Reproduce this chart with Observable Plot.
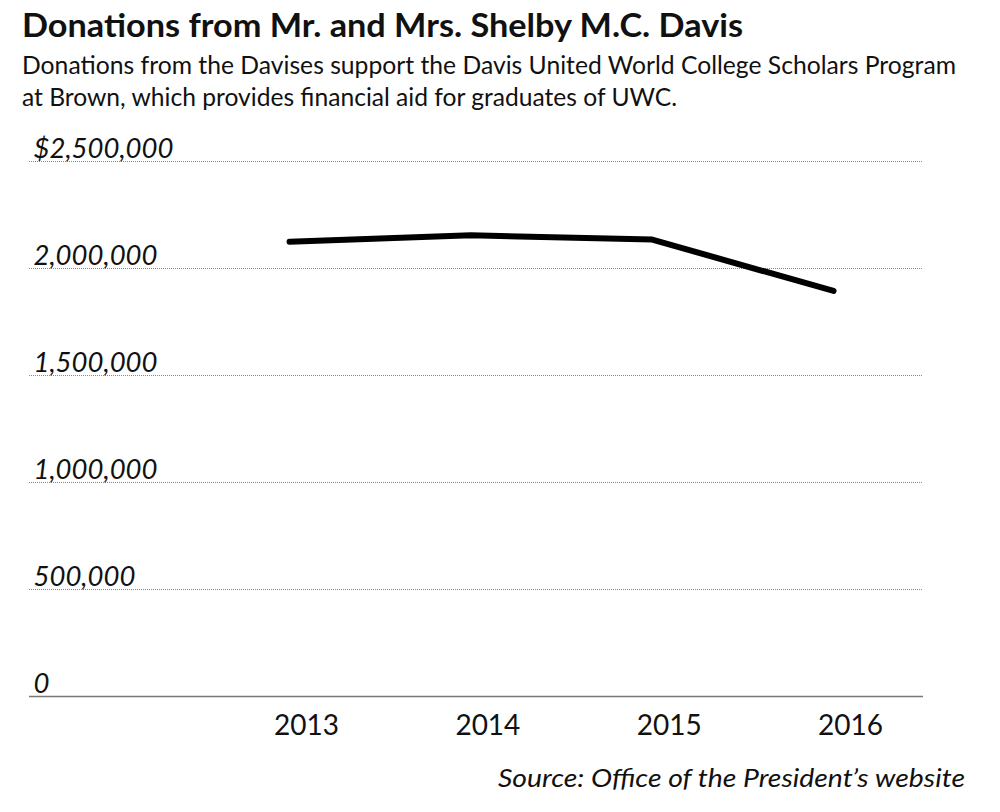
<!DOCTYPE html>
<html><head><meta charset="utf-8">
<script src="https://cdn.jsdelivr.net/npm/d3@7"></script>
<script src="https://cdn.jsdelivr.net/npm/@observablehq/plot@0.6"></script>
<style>
body{margin:0;background:#fff;}
#wrap{position:relative;width:1000px;height:812px;overflow:hidden;font-family:Lato,"Open Sans",sans-serif;color:#111;}
.t{position:absolute;left:22px;white-space:nowrap;line-height:1;transform-origin:0 0;}
#chart{position:absolute;left:0;top:120px;}
</style></head><body>
<div id="wrap">
  <div class="t" style="top:8px;font-size:33px;font-weight:700" data-w="721">Donations from Mr. and Mrs. Shelby M.C. Davis</div>
  <div class="t" style="top:52px;font-size:25px" data-w="934">Donations from the Davises support the Davis United World College Scholars Program</div>
  <div class="t" style="top:84px;font-size:25px" data-w="655">at Brown, which provides financial aid for graduates of UWC.</div>
  <div id="chart"></div>
  <div class="t" style="left:498px;top:765px;font-size:25px;font-style:italic" data-w="467">Source: Office of the President’s website</div>
</div>
<script>
const years = [2013, 2014, 2015, 2016];
const donations = [2125000, 2155000, 2135000, 1895000];
const yTicks = [0, 500000, 1000000, 1500000, 2000000, 2500000];
const gridTicks = yTicks.filter(d => d > 0);

const data = years.map((year, i) => ({year, value: donations[i]}));
const fmt = d3.format(",");

const chart = Plot.plot({
  width: 1000,
  height: 630,
  marginLeft: 29,
  marginRight: 77,
  marginTop: 41,
  marginBottom: 54,
  style: {fontFamily: "Lato, 'Open Sans', sans-serif", color: "#111", background: "#fff", overflow: "visible"},
  x: {domain: [2011.566, 2016.496]},
  y: {domain: [0, 2500000]},
  marks: [
    Plot.ruleY(gridTicks, {stroke: "#888", strokeWidth: 1, strokeDasharray: "1,1"}),
    Plot.ruleY([0], {stroke: "#777", strokeWidth: 1.6}),
    Plot.axisY({
      ticks: yTicks, tickSize: 0, tickPadding: 0, textAnchor: "start", dx: 4, dy: -12,
      fontSize: 27.5, fontStyle: "italic", fill: "#111",
      tickFormat: d => (d === 2500000 ? "$" : "") + fmt(d), label: null
    }),
    Plot.axisX({
      ticks: years, tickSize: 0, tickPadding: 19, dx: 17, fontSize: 28, fill: "#111",
      tickFormat: d => String(d), label: null
    }),
    Plot.line(data, {x: "year", y: "value", stroke: "#000", strokeWidth: 6, strokeLinecap: "round", strokeLinejoin: "round"})
  ]
});
document.getElementById("chart").appendChild(chart);

function fit() {
  document.querySelectorAll(".t[data-w]").forEach(el => {
    el.style.transform = "none";
    const w = el.getBoundingClientRect().width;
    const target = +el.dataset.w;
    if (w > 0) el.style.transform = `scaleX(${target / w})`;
  });
}
fit();
if (document.fonts && document.fonts.ready) document.fonts.ready.then(fit);
</script>
</body></html>
